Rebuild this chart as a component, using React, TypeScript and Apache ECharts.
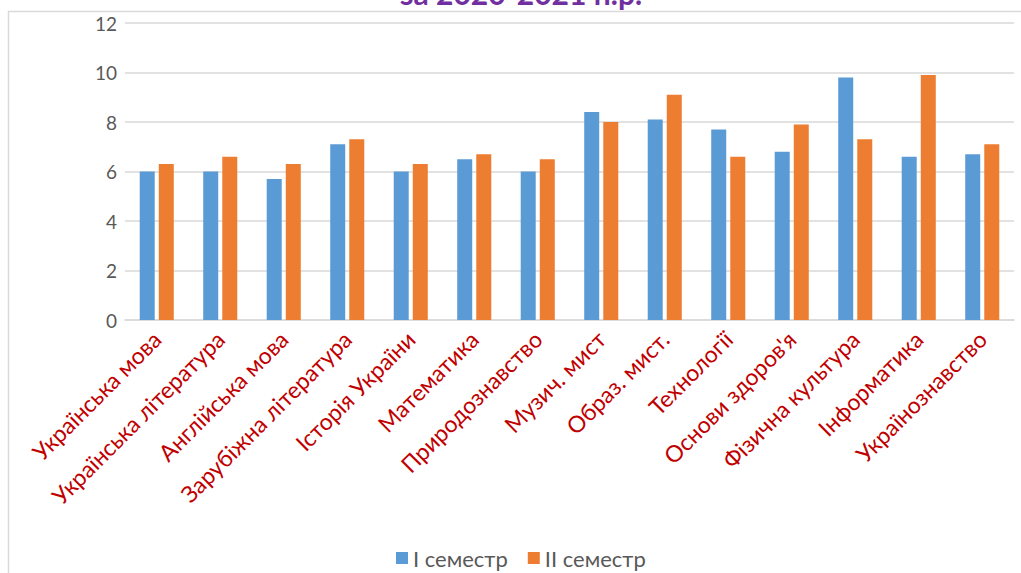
import React, { useEffect, useRef } from "react";
import * as echarts from "echarts";

const categories = [
  "Українська мова",
  "Українська література",
  "Англійська мова",
  "Зарубіжна література",
  "Історія України",
  "Математика",
  "Природознавство",
  "Музич. мист",
  "Образ. мист.",
  "Технології",
  "Основи здоров'я",
  "Фізична культура",
  "Інформатика",
  "Українознавство",
];
const semester1 = [6.0, 6.0, 5.7, 7.1, 6.0, 6.5, 6.0, 8.4, 8.1, 7.7, 6.8, 9.8, 6.6, 6.7];
const semester2 = [6.3, 6.6, 6.3, 7.3, 6.3, 6.7, 6.5, 8.0, 9.1, 6.6, 7.9, 7.3, 9.9, 7.1];
const seriesNames = ["I семестр", "II семестр"];
const titleText = "за 2020-2021 н.р.";

export default function App() {
  const ref = useRef<HTMLDivElement>(null);
  useEffect(() => {
    if (!ref.current) return;
    const chart = echarts.init(ref.current, undefined, { renderer: "svg" });
    const font = "Lato, 'Noto Sans', sans-serif";
    chart.setOption({
      animation: false,
      backgroundColor: "#ffffff",
      textStyle: { fontFamily: font },
      graphic: [
        {
          type: "rect",
          shape: { x: 8.5, y: 11.5, width: 1040, height: 600 },
          style: { fill: "none", stroke: "#d9d9d9", lineWidth: 1.5 },
          silent: true,
        },
        {
          type: "text",
          x: 521,
          y: 8,
          style: {
            text: titleText,
            fill: "#7030A0",
            font: `bold 30px ${font}`,
            align: "center",
            verticalAlign: "bottom",
          },
        },
      ],
      grid: { left: 125, right: 7, top: 23, bottom: 253, containLabel: false },
      legend: {
        data: seriesNames,
        left: 391,
        top: 542,
        itemWidth: 12,
        itemHeight: 12,
        itemGap: 20,
        icon: "rect",
        textStyle: { fontSize: 22, color: "#595959", fontFamily: font },
      },
      xAxis: {
        type: "category",
        data: categories,
        axisLine: { lineStyle: { color: "#d9d9d9", width: 1.5 } },
        axisTick: { show: false },
        axisLabel: {
          rotate: 45,
          interval: 0,
          color: "#C00000",
          fontSize: 23,
          fontFamily: font,
          margin: 15,
        },
      },
      yAxis: {
        type: "value",
        min: 0,
        max: 12,
        interval: 2,
        axisLine: { show: false },
        axisTick: { show: false },
        axisLabel: { color: "#595959", fontSize: 19, fontFamily: font, margin: 8 },
        splitLine: { lineStyle: { color: "#d9d9d9", width: 1.5 } },
      },
      series: [
        {
          name: seriesNames[0],
          type: "bar",
          data: semester1,
          barWidth: 15,
          barGap: "27%",
          itemStyle: { color: "#5B9BD5" },
        },
        {
          name: seriesNames[1],
          type: "bar",
          data: semester2,
          barWidth: 15,
          barGap: "27%",
          itemStyle: { color: "#ED7D31" },
        },
      ],
    });
    return () => chart.dispose();
  }, []);
  return (
    <div
      ref={ref}
      style={{ position: "absolute", left: 0, top: 0, width: 1021, height: 573 }}
    />
  );
}
